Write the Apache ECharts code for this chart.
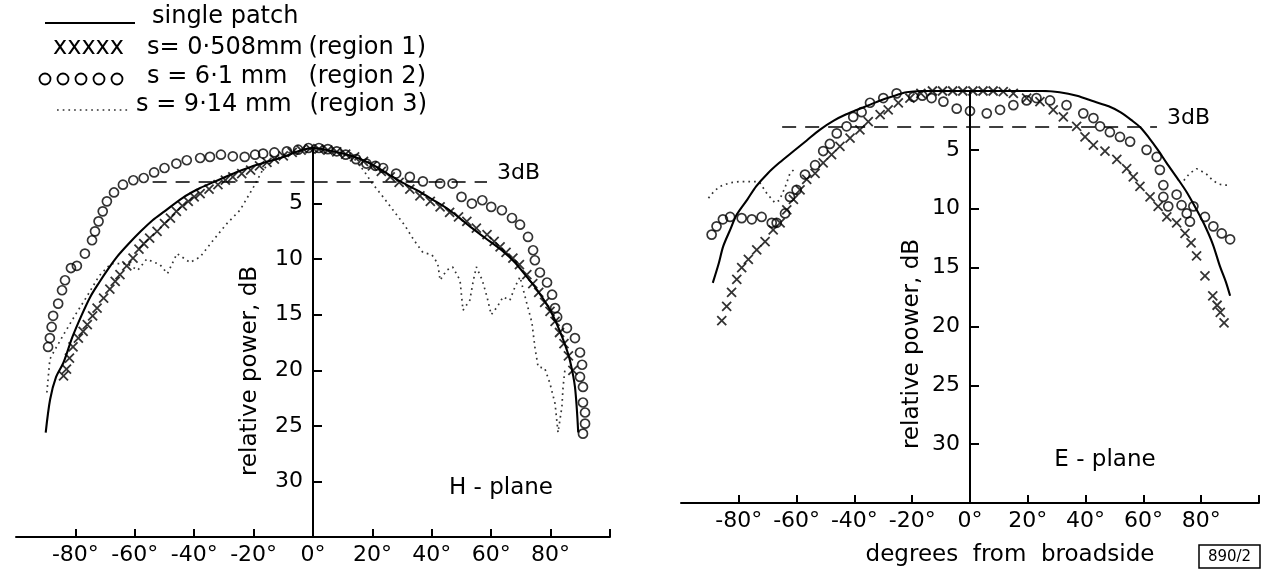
<!DOCTYPE html>
<html>
<head>
<meta charset="utf-8">
<script src="https://cdn.jsdelivr.net/npm/echarts@6/dist/echarts.min.js"></script>
<style>
html,body{margin:0;padding:0;background:#fff;}
#chart{width:1264px;height:571px;}
</style>
</head>
<body>
<div id="chart"></div>
<script>
// ---------- tick labels ----------
const xTickValues = [-80, -60, -40, -20, 0, 20, 40, 60, 80, 100];
const xLabelValues = [-80, -60, -40, -20, 0, 20, 40, 60, 80];
const yTickValues = [5, 10, 15, 20, 25, 30];

// ---------- H-plane data [angle deg, relative power dB] ----------
const hSingle = [[-90,25.6],[-88.5,22.6],[-86.5,20.6],[-84,19.3],[-81,17],[-78,15.1],[-75,13.4],[-72,12.1],[-69,10.9],[-66,9.8],[-62,8.6],[-58,7.5],[-54,6.5],[-50,5.7],[-44,4.5],[-38,3.6],[-32,2.9],[-26,2.2],[-21,1.7],[-15,1.2],[-10,0.8],[-5,0.3],[0,0],[5,0.2],[10,0.5],[15,0.9],[20,1.5],[25,2.3],[30,3.1],[35,3.8],[40,4.6],[46,5.6],[53,7.1],[58,8.1],[64,9.3],[68,10.3],[72,11.6],[75,12.6],[78.8,14.1],[81,15.2],[83,16.4],[85,17.8],[86.5,19.1],[88.2,21.5],[89.3,25.6]];
const hRegion1 = [[-84,20.5],[-83,19.9],[-82,18.9],[-80.8,17.9],[-79,17.1],[-77.4,16.5],[-76,15.9],[-74.2,15.1],[-72.7,14.4],[-70.5,13.5],[-68.4,12.7],[-66.6,12],[-65,11.4],[-62.7,10.6],[-60.6,9.9],[-58.6,9.1],[-57,8.6],[-55,8.1],[-52.5,7.5],[-50,6.8],[-48,6.3],[-46,5.7],[-44,5.2],[-42,4.8],[-40,4.4],[-38,4.1],[-35,3.7],[-32,3.3],[-29.5,2.9],[-27,2.6],[-24,2.3],[-21,2.0],[-18,1.6],[-15.5,1.3],[-13,1.0],[-10,0.7],[-7,0.4],[-4,0.2],[-1,0.05],[2,0.1],[5,0.2],[8,0.35],[11,0.55],[14,0.8],[17,1.2],[20,1.6],[23,2.1],[26,2.6],[29,3.1],[32.6,3.7],[36,4.3],[39.5,4.8],[42.8,5.3],[46,5.8],[49,6.2],[51.8,6.6],[55,7.2],[58.6,7.8],[61,8.4],[63,8.9],[65,9.4],[67.3,9.9],[69.5,10.5],[72,11.4],[74,12.2],[76,13],[78,13.9],[79.8,14.7],[81.5,15.6],[83,16.6],[84.5,17.6],[86,18.7],[87.5,20]];
const hRegion2 = [[-89.2,17.9],[-88.6,17.1],[-88,16.1],[-87.5,15.1],[-85.8,14.0],[-84.5,12.8],[-83.5,11.9],[-81.5,10.8],[-79.5,10.6],[-76.8,9.5],[-74.4,8.3],[-73.4,7.5],[-72.2,6.6],[-70.8,5.7],[-69.4,4.8],[-67,4.0],[-64,3.3],[-60.5,2.9],[-57,2.7],[-53.5,2.2],[-50,1.8],[-46,1.4],[-42.5,1.1],[-38,0.9],[-34.7,0.8],[-31,0.6],[-27,0.75],[-23,0.8],[-19.5,0.6],[-16.8,0.5],[-13,0.4],[-8.8,0.3],[-5,0.15],[-1.5,0],[2,0],[5,0.1],[8,0.3],[11,0.6],[14.5,1.0],[18,1.4],[21,1.6],[23.6,1.8],[28,2.3],[32.6,2.6],[37,3.0],[42.8,3.2],[47,3.2],[50,4.4],[53.5,5.0],[57,4.7],[60,5.3],[63.6,5.6],[67,6.3],[69.7,6.9],[72.4,8.0],[74.1,9.2],[74.7,10.1],[76.4,11.2],[78.8,12.1],[80.5,13.2],[81.5,14.4],[82.2,15.2],[85.5,16.2],[88.2,17.1],[89.9,18.4],[90.6,19.5],[89.9,20.6],[90.9,21.5],[90.9,22.9],[91.6,23.8],[91.6,24.8],[90.9,25.7]];
const hRegion3 = [[-89.6,22],[-88.6,19],[-87,18.2],[-84,16.8],[-80,15],[-76,13.3],[-72,11.5],[-68,10.4],[-62.6,10.4],[-59,11],[-56,10],[-51.5,10.5],[-49,11.3],[-45.8,9.5],[-41.4,10.3],[-38,9.8],[-33.6,8.3],[-29,6.8],[-24.6,5.6],[-20,3.5],[-17,2.0],[-13.5,1.1],[-8,0.4],[0,0],[8,0.4],[14,1.0],[17,2.0],[20,3.2],[23,4.2],[27,5.6],[31,7.0],[34,8.3],[37,9.4],[40,9.6],[42,10.4],[42.8,11.9],[45,11],[47,10.7],[49.5,11.9],[50.5,14.6],[52.8,13.7],[54,11.9],[55,10.7],[57,11.9],[58.6,13.4],[60,15],[62,14.3],[64,13.4],[66.3,13.7],[68,12.5],[69.7,11.6],[72,14],[73.7,15.7],[74.7,17.9],[75.8,19.7],[78,19.8],[79.8,21.2],[81.5,23],[82.5,25.6],[83.8,23.3],[84.2,21.5],[84.8,20]];
const h3dB = [[-54,3],[58.6,3]];

// ---------- E-plane data ----------
const eSingle = [[-89,16.3],[-87,14.7],[-85.4,13.2],[-83,11.8],[-80.7,10.5],[-77,9.2],[-74,8.1],[-70,7.0],[-66,6.1],[-61,5.1],[-56.5,4.2],[-52,3.3],[-47,2.5],[-43,2.0],[-39,1.6],[-35,1.2],[-31,0.8],[-26,0.4],[-22,0.1],[-15,0],[0,0],[15,0],[25,0],[31,0.1],[37,0.4],[43,0.9],[48,1.3],[52,1.8],[56,2.5],[59,3.1],[62,4.0],[65,5.0],[68,6.1],[72,7.5],[75,8.6],[78,9.9],[81,11.3],[84,13.0],[86.5,14.9],[88.5,16.2],[90,17.4]];
const eRegion1 = [[-85.9,19.5],[-84.2,18.3],[-82.5,17.1],[-80.7,16.0],[-79,15.0],[-76.7,14.3],[-73.8,13.5],[-70.9,12.8],[-68.1,11.8],[-65.7,11.2],[-63.4,10.1],[-61.1,9.2],[-58.8,8.4],[-56.5,7.5],[-53.6,7.0],[-50.8,6.1],[-47.9,5.4],[-45,4.7],[-41.5,4.0],[-38.1,3.3],[-35.2,2.6],[-31.1,2.0],[-28.3,1.6],[-24.8,1.0],[-20.8,0.6],[-17,0.2],[-13,0],[-9.5,0],[-6,0],[-2.5,0],[1,0],[4.5,0],[8,0],[11.5,0.05],[15,0.2],[19.6,0.6],[24.2,0.9],[28.8,1.6],[32.3,2.2],[36.9,3.0],[39.8,3.9],[42.7,4.6],[46.7,5.1],[50.8,5.8],[54.2,6.6],[56.5,7.3],[58.8,8.1],[62.3,9.0],[65.1,9.8],[68.1,10.7],[71.5,11.2],[74.4,12.1],[76.5,12.9],[78.4,14.0],[81.3,15.7],[84,17.4],[85.5,18.2],[86.6,18.8],[87.9,19.7]];
const eRegion2 = [[-89.4,12.2],[-87.7,11.5],[-85.5,10.9],[-83,10.7],[-79,10.8],[-75.5,10.9],[-72.1,10.7],[-68.6,11.2],[-66.9,11.2],[-64,10.4],[-62.3,9.0],[-60,8.4],[-57.1,7.1],[-53.6,6.3],[-50.8,5.1],[-48.5,4.5],[-46.1,3.6],[-42.7,3.0],[-40.4,2.2],[-37.5,1.8],[-34.6,1.0],[-30,0.6],[-25.4,0.2],[-19.6,0.5],[-16.5,0.4],[-13.3,0.6],[-9.2,0.9],[-4.6,1.5],[0,1.7],[5.8,1.9],[10.4,1.6],[15,1.2],[19.6,0.8],[23,0.6],[27.7,0.8],[33.4,1.2],[39.2,1.9],[42.7,2.3],[45,3.0],[48.4,3.5],[51.9,3.9],[55.4,4.3],[61.1,5.0],[64.6,5.6],[65.7,6.7],[66.9,8.0],[66.9,9.0],[68.6,9.8],[71.5,8.8],[73.2,9.7],[75,10.4],[76.1,11.1],[77.3,9.8],[81.3,10.7],[84.2,11.5],[87.1,12.1],[90,12.6]];
const eRegion3Left = [[-90.5,9.1],[-88.5,8.5],[-86.5,8.1],[-83,7.8],[-80,7.7],[-77.3,7.7],[-74,7.7],[-72.7,7.8],[-70.3,8.7],[-67.5,9.5],[-66,9.3],[-64,8.2],[-62.3,7.0],[-60.6,6.6]];
const eRegion3Right = [[74,7.6],[76,7.0],[78.4,6.6],[80,6.8],[82,7.1],[84,7.6],[86,7.9],[88,8.0],[90,8.0]];
const e3dB = [[-65,3],[64.7,3]];

// ---------- styling helpers ----------
const FONT = 'DejaVu Sans';
const INK = '#000';
const X_SYMBOL = 'path://M0 0L10 10M10 0L0 10';
const GRIDS = [
  { left: 16, top: 148, width: 594, height: 389 },
  { left: 681, top: 91, width: 578, height: 412 }
];

function xAxisCfg(gridIndex) {
  return {
    type: 'value', gridIndex: gridIndex, min: -100, max: 100, position: 'bottom',
    axisLine: { onZero: false, lineStyle: { color: INK, width: 2 } },
    axisTick: { inside: true, length: 8, customValues: xTickValues, lineStyle: { color: INK, width: 2 } },
    axisLabel: { customValues: xLabelValues, formatter: function (v) { return v + '°'; },
      color: INK, fontSize: 22, fontFamily: FONT, margin: 7 },
    splitLine: { show: false }
  };
}
function yAxisCfg(gridIndex) {
  // place the value axis on the 0° line (middle of the grid)
  const g = GRIDS[gridIndex];
  return {
    type: 'value', gridIndex: gridIndex, inverse: true, min: 0, max: 35,
    position: 'left', offset: -g.width / 2,
    axisLine: { onZero: false, lineStyle: { color: INK, width: 2 } },
    axisTick: { inside: true, length: 9, customValues: yTickValues, lineStyle: { color: INK, width: 2 } },
    axisLabel: { customValues: yTickValues, color: INK, fontSize: 22, fontFamily: FONT, margin: 10 },
    splitLine: { show: false }
  };
}
function singleSeries(data, idx, dbLine) {
  return {
    name: 'single patch', type: 'line', xAxisIndex: idx, yAxisIndex: idx, data: data,
    smooth: 0.3, showSymbol: false, lineStyle: { color: INK, width: 2.1 }, z: 3,
    markLine: {
      silent: true, symbol: 'none', animation: false,
      lineStyle: { type: [14, 9], color: INK, width: 1.6 },
      label: { show: true, position: 'end', formatter: '3dB\n ', color: INK, fontSize: 22,
        lineHeight: 17, fontFamily: FONT, distance: 10 },
      data: [[{ coord: dbLine[0] }, { coord: dbLine[1] }]]
    }
  };
}
function crossSeries(data, idx) {
  return {
    name: 'region 1', type: 'scatter', xAxisIndex: idx, yAxisIndex: idx, data: data,
    symbol: X_SYMBOL, symbolSize: 9, z: 4,
    itemStyle: { color: 'none', borderColor: INK, borderWidth: 1.8 }
  };
}
function circleSeries(data, idx) {
  return {
    name: 'region 2', type: 'scatter', xAxisIndex: idx, yAxisIndex: idx, data: data,
    symbol: 'circle', symbolSize: 9, z: 5,
    itemStyle: { color: 'rgba(255,255,255,0)', borderColor: INK, borderWidth: 1.7 }
  };
}
function dottedSeries(data, idx) {
  return {
    name: 'region 3', type: 'line', xAxisIndex: idx, yAxisIndex: idx, data: data,
    showSymbol: false, lineStyle: { color: '#333', width: 1.7, type: [1.7, 4] }, z: 2
  };
}

const chart = echarts.init(document.getElementById('chart'), null, { renderer: 'canvas' });
const txt = (x, y, text, size, extra, rot) => ({
  type: 'text', x: x, y: y, rotation: rot || 0,
  style: Object.assign({ text: text, fill: INK, fontSize: size, fontFamily: FONT, align: 'left', verticalAlign: 'middle' }, extra || {})
});
const ring = (cx, cy) => ({ type: 'circle', shape: { cx: cx, cy: cy, r: 5.5 }, style: { fill: 'none', stroke: INK, lineWidth: 1.8 } });

chart.setOption({
  backgroundColor: '#fff',
  animation: false,
  grid: GRIDS.map(g => Object.assign({ containLabel: false, outerBoundsMode: 'none' }, g)),
  xAxis: [xAxisCfg(0), xAxisCfg(1)],
  yAxis: [yAxisCfg(0), yAxisCfg(1)],
  series: [
    dottedSeries(hRegion3, 0),
    singleSeries(hSingle, 0, h3dB),
    crossSeries(hRegion1, 0),
    circleSeries(hRegion2, 0),
    dottedSeries(eRegion3Left, 1),
    dottedSeries(eRegion3Right, 1),
    singleSeries(eSingle, 1, e3dB),
    crossSeries(eRegion1, 1),
    circleSeries(eRegion2, 1)
  ],
  graphic: [
    // legend
    { type: 'line', shape: { x1: 45, y1: 23, x2: 135, y2: 23 }, style: { stroke: INK, lineWidth: 2 } },
    txt(152, 17, 'single patch', 24),
    txt(53, 48, 'xxxxx', 24),
    txt(147, 48, 's= 0·508mm', 24),
    txt(426, 48, '(region 1)', 24, { align: 'right' }),
    ring(45, 79), ring(63, 79), ring(81, 79), ring(99, 79), ring(117, 79),
    txt(147, 77, 's = 6·1 mm', 24),
    txt(426, 77, '(region 2)', 24, { align: 'right' }),
    { type: 'line', shape: { x1: 57, y1: 110, x2: 130, y2: 110 }, style: { stroke: '#333', lineWidth: 1.7, lineDash: [1.7, 4] } },
    txt(136, 105, 's = 9·14 mm', 24),
    txt(427, 105, '(region 3)', 24, { align: 'right' }),
    // axis titles and panel names
    txt(250, 371, 'relative power, dB', 23, { align: 'center' }, Math.PI / 2),
    txt(912, 344, 'relative power, dB', 23, { align: 'center' }, Math.PI / 2),
    txt(501, 488, 'H - plane', 23, { align: 'center' }),
    txt(1105, 460, 'E - plane', 23, { align: 'center' }),
    txt(1010, 555, 'degrees  from  broadside', 23, { align: 'center' }),
    { type: 'rect', shape: { x: 1199, y: 545, width: 61, height: 23 }, style: { fill: 'none', stroke: INK, lineWidth: 1.5 } },
    txt(1229.5, 557, '890/2', 15, { align: 'center' })
  ]
});
</script>
</body>
</html>
